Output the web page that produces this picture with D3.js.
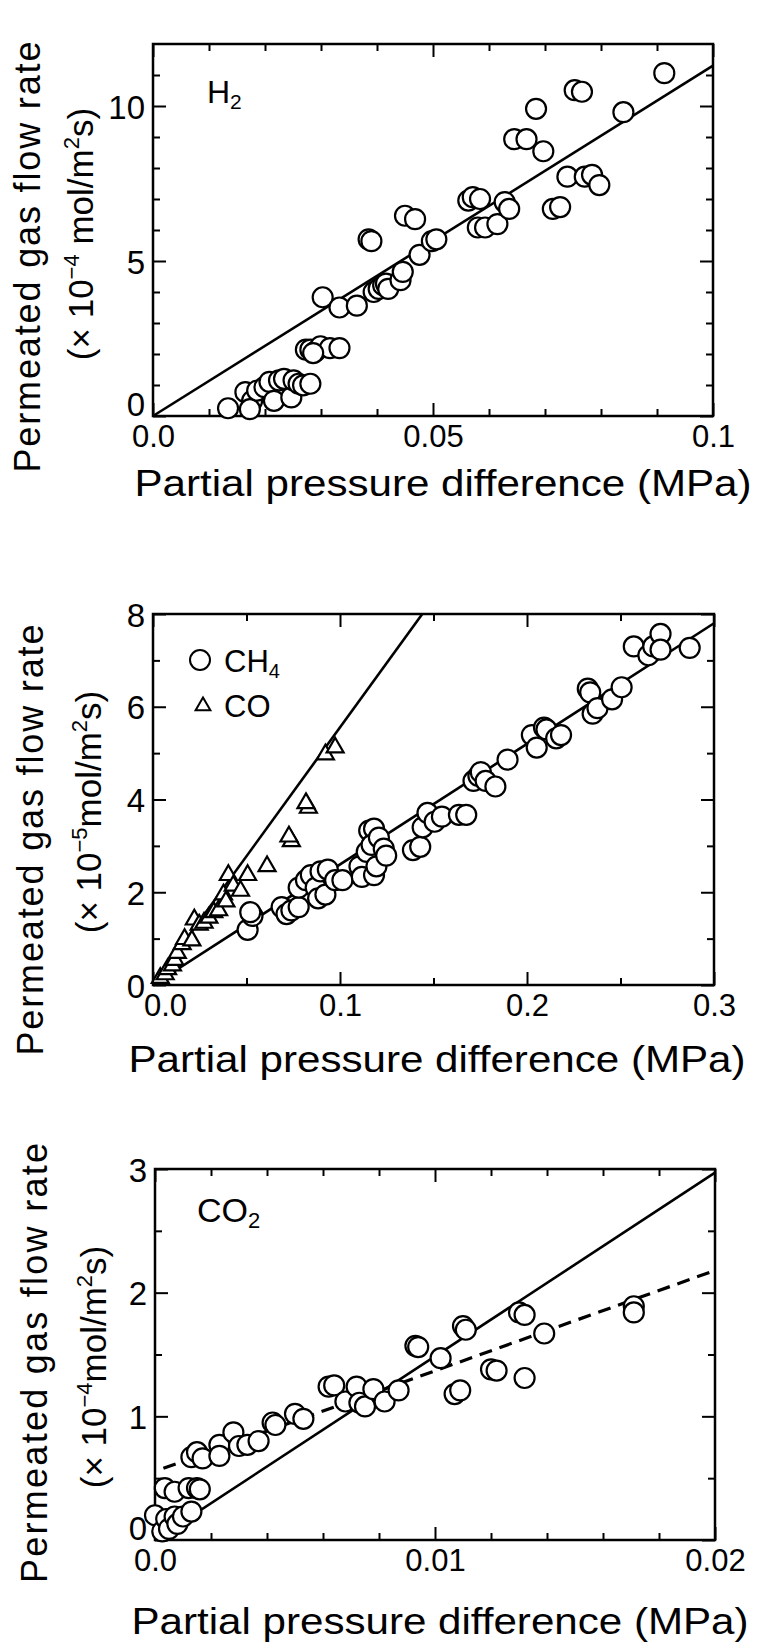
<!DOCTYPE html>
<html>
<head>
<meta charset="utf-8">
<script src="https://cdn.jsdelivr.net/npm/d3@7"></script>
<style>
  html, body { margin: 0; padding: 0; background: #fff; }
  svg { display: block; font-family: "Liberation Sans", Arial, Helvetica, sans-serif; }
</style>
</head>
<body>
<svg id="chart" width="760" height="1643"></svg>
<script>
// ---------------- DATA ----------------
// Panel 1: H2
const h2X = [0.0134,0.0165,0.0177,0.0173,0.0186,0.0199,0.0208,0.0216,0.0225,0.0234,0.0247,0.0251,0.026,0.0268,0.0281,0.0273,0.0281,0.029,0.0299,0.0316,0.0333,0.0286,0.0303,0.0333,0.0364,0.0385,0.039,0.0394,0.0403,0.0411,0.0416,0.042,0.0442,0.0446,0.045,0.0468,0.0476,0.0498,0.0506,0.0563,0.0571,0.0584,0.058,0.0593,0.0615,0.0628,0.0636,0.0645,0.0667,0.0684,0.0697,0.0714,0.0727,0.074,0.0753,0.0766,0.0771,0.0784,0.0797,0.084,0.0913];
const h2Y = [0.25,0.77,0.49,0.22,0.82,0.93,1.1,0.49,1.15,1.2,0.6,1.15,1.04,0.99,1.04,2.14,2.14,2.08,2.25,2.19,2.19,2.03,3.83,3.5,3.56,5.7,5.64,4.0,4.1,4.22,4.27,4.1,4.38,4.65,6.46,6.35,5.2,5.64,5.7,6.95,7.06,7.0,6.08,6.08,6.19,6.9,6.68,8.93,8.93,9.91,8.54,6.68,6.74,7.72,10.51,10.46,7.72,7.78,7.45,9.8,11.06];
const h2FitX = [0, 0.1];
const h2FitY = [0, 11.3];
const h2XTicks = [0, 0.05, 0.1];
const h2XTickLabels = ["0.0", "0.05", "0.1"];
const h2XMinor = [0.01,0.02,0.03,0.04,0.06,0.07,0.08,0.09];
const h2YTicks = [0, 5, 10];
const h2YTickLabels = ["0", "5", "10"];
const h2YMinor = [1,2,3,4,6,7,8,9,11];

// Panel 2: CH4 and CO
const ch4X = [0.0506,0.0532,0.052,0.0688,0.0714,0.074,0.0779,0.0779,0.0818,0.0844,0.087,0.0883,0.0896,0.0922,0.0935,0.0974,0.1013,0.1104,0.1117,0.1143,0.1156,0.1182,0.1169,0.1182,0.1195,0.1208,0.1234,0.1247,0.139,0.1429,0.1442,0.1468,0.1506,0.1545,0.1636,0.1675,0.1714,0.174,0.1753,0.1779,0.1831,0.1896,0.2026,0.2052,0.2091,0.2104,0.2156,0.2182,0.2325,0.2338,0.2351,0.2377,0.2455,0.2506,0.2571,0.2649,0.2675,0.2714,0.2714,0.287];
const ch4Y = [1.19,1.49,1.57,1.68,1.53,1.61,1.68,2.1,2.26,2.37,2.1,1.87,2.45,1.95,2.49,2.26,2.26,2.56,2.33,2.87,3.33,3.37,3.02,2.37,2.56,3.18,2.94,2.79,2.91,2.98,3.4,3.71,3.52,3.63,3.67,3.67,4.4,4.51,4.59,4.4,4.28,4.86,5.39,5.12,5.55,5.51,5.32,5.39,6.39,6.31,5.85,5.97,6.16,6.42,7.3,7.11,7.3,7.57,7.23,7.27];
const coX = [0.0039,0.0065,0.0078,0.0104,0.0117,0.013,0.0156,0.0169,0.0208,0.0221,0.0247,0.0273,0.0299,0.0325,0.0351,0.0377,0.039,0.0403,0.0429,0.0468,0.0506,0.061,0.074,0.0727,0.0831,0.0818,0.0922,0.0974];
const coY = [0.15,0.23,0.34,0.42,0.54,0.69,0.88,0.99,0.96,1.41,1.3,1.34,1.45,1.57,1.61,1.95,1.8,2.37,2.14,2.03,2.37,2.56,3.1,3.2,3.82,3.92,4.97,5.12];
const ch4FitX = [0, 0.3];
const ch4FitY = [0, 7.8];
const coFitX = [0, 0.144];
const coFitY = [0, 8];
const p2XTicks = [0, 0.1, 0.2, 0.3];
const p2XTickLabels = ["0.0", "0.1", "0.2", "0.3"];
const p2XMinor = [0.05, 0.15, 0.25];
const p2YTicks = [0, 2, 4, 6, 8];
const p2YTickLabels = ["0", "2", "4", "6", "8"];
const p2YMinor = [1, 3, 5, 7];
const p2Legend = ["CH4", "CO"];

// Panel 3: CO2
const co2X = [0.0,0.00026,0.00035,0.0004,0.0005,0.0007,0.0007,0.0008,0.001,0.0013,0.0012,0.0015,0.0016,0.0013,0.0015,0.0017,0.0023,0.0023,0.0028,0.003,0.0033,0.0037,0.0042,0.0043,0.005,0.0053,0.0062,0.0064,0.0068,0.0072,0.0073,0.0075,0.0078,0.0082,0.0087,0.0093,0.0094,0.0102,0.0107,0.0109,0.011,0.0111,0.012,0.0122,0.013,0.0132,0.0132,0.0139,0.0171,0.0171];
const co2Y = [0.2,0.07,0.42,0.17,0.09,0.39,0.19,0.13,0.19,0.23,0.42,0.42,0.41,0.67,0.71,0.66,0.77,0.68,0.87,0.76,0.77,0.8,0.95,0.93,1.02,0.98,1.24,1.25,1.12,1.24,1.11,1.08,1.22,1.12,1.21,1.57,1.56,1.47,1.18,1.21,1.73,1.70,1.38,1.37,1.84,1.82,1.31,1.67,1.89,1.84];
const co2FitX = [0, 0.02];
const co2FitY = [0, 2.97];
const co2DashX = [0.0003, 0.02];
const co2DashY = [0.58, 2.18];
const co2XTicks = [0, 0.01, 0.02];
const co2XTickLabels = ["0.0", "0.01", "0.02"];
const co2XMinor = [0.002,0.004,0.006,0.008,0.012,0.014,0.016,0.018];
const co2YTicks = [0, 1, 2, 3];
const co2YTickLabels = ["0", "1", "2", "3"];
const co2YMinor = [0.5, 1.5, 2.5];

const xTitle = "Partial pressure difference (MPa)";
const yTitle1 = "Permeated gas flow rate";

// ---------------- DRAWING ----------------
const svg = d3.select("#chart");
svg.append("rect").attr("width", 760).attr("height", 1643).attr("fill", "#fff");

function zip(xs, ys) { return xs.map((x, i) => ({x, y: ys[i]})); }

function drawPanel(cfg) {
  const {left, top, width, height} = cfg.box;
  const x = d3.scaleLinear().domain(cfg.xDomain).range([0, width]);
  const y = d3.scaleLinear().domain(cfg.yDomain).range([height, 0]);
  const g = svg.append("g").attr("transform", `translate(${left},${top})`);

  const MAJ = 13, MIN = 7;
  const styleAxis = (sel, fs) => {
    sel.select(".domain").remove();
    sel.selectAll(".tick line").attr("stroke", "#000").attr("stroke-width", 2);
    sel.selectAll(".tick text").attr("fill", "#000").attr("font-size", fs || 31)
       .attr("font-family", "'Liberation Sans', Arial, sans-serif");
  };

  // bottom axis with labels
  const bx = g.append("g").attr("transform", `translate(0,${height})`)
    .call(d3.axisBottom(x).tickValues(cfg.xTicks).tickFormat((d, i) => cfg.xTickLabels[i])
      .tickSizeInner(-MAJ).tickSizeOuter(0).tickPadding(9)).call(s => styleAxis(s, 31));
  bx.selectAll(".tick text").filter((d, i) => i === 0).attr("dx", cfg.zeroXdx || 0);
  g.append("g").attr("transform", `translate(0,${height})`)
    .call(d3.axisBottom(x).tickValues(cfg.xMinor).tickFormat("").tickSizeInner(-MIN).tickSizeOuter(0)).call(styleAxis);
  // top axis ticks
  g.append("g").call(d3.axisTop(x).tickValues(cfg.xTicks).tickFormat("").tickSizeInner(-MAJ).tickSizeOuter(0)).call(styleAxis);
  g.append("g").call(d3.axisTop(x).tickValues(cfg.xMinor).tickFormat("").tickSizeInner(-MIN).tickSizeOuter(0)).call(styleAxis);
  // left axis with labels
  const ly = g.append("g")
    .call(d3.axisLeft(y).tickValues(cfg.yTicks).tickFormat((d, i) => cfg.yTickLabels[i])
      .tickSizeInner(-MAJ).tickSizeOuter(0).tickPadding(8)).call(s => styleAxis(s, 33));
  ly.selectAll(".tick text").attr("dy", (d, i) => i === 0 ? (12 + (cfg.zeroYdy || 0)) + "px" : "12px");
  g.append("g").call(d3.axisLeft(y).tickValues(cfg.yMinor).tickFormat("").tickSizeInner(-MIN).tickSizeOuter(0)).call(styleAxis);
  // right axis ticks
  g.append("g").attr("transform", `translate(${width},0)`)
    .call(d3.axisRight(y).tickValues(cfg.yTicks).tickFormat("").tickSizeInner(-MAJ).tickSizeOuter(0)).call(styleAxis);
  g.append("g").attr("transform", `translate(${width},0)`)
    .call(d3.axisRight(y).tickValues(cfg.yMinor).tickFormat("").tickSizeInner(-MIN).tickSizeOuter(0)).call(styleAxis);

  // frame
  g.append("rect").attr("width", width).attr("height", height)
    .attr("fill", "none").attr("stroke", "#000").attr("stroke-width", 2.5);

  const line = d3.line().x(d => x(d.x)).y(d => y(d.y));
  cfg.lines.forEach(L => {
    g.append("path").datum(zip(L.xs, L.ys)).attr("d", line)
      .attr("fill", "none").attr("stroke", "#000").attr("stroke-width", L.dash ? 3.2 : 2.6)
      .attr("stroke-dasharray", L.dash || null);
  });

  cfg.series.forEach(S => {
    const pts = zip(S.xs, S.ys);
    if (S.shape === "circle") {
      g.append("g").selectAll("circle").data(pts).join("circle")
        .attr("cx", d => x(d.x)).attr("cy", d => y(d.y)).attr("r", 10)
        .attr("fill", "#fff").attr("stroke", "#000").attr("stroke-width", 2.2);
    } else {
      const tri = d3.symbol().type(d3.symbolTriangle).size(125);
      g.append("g").selectAll("path").data(pts).join("path")
        .attr("transform", d => `translate(${x(d.x)},${y(d.y)})`).attr("d", tri)
        .attr("fill", "#fff").attr("stroke", "#000").attr("stroke-width", 2.2);
    }
  });

  // x title
  svg.append("text").attr("x", cfg.xTitlePos[0]).attr("y", cfg.xTitlePos[1])
    .attr("text-anchor", "middle").attr("font-size", 36)
    .attr("textLength", 617).attr("lengthAdjust", "spacingAndGlyphs").text(xTitle);

  // y title line 1
  svg.append("text").attr("transform", `translate(${cfg.yT1[0]},${cfg.yT1[1]}) rotate(-90)`)
    .attr("text-anchor", "middle").attr("font-size", 36)
    .attr("textLength", cfg.yT1[2]).attr("lengthAdjust", "spacing").text(yTitle1);

  // y title line 2
  const t2 = svg.append("text").attr("transform", `translate(${cfg.yT2[0]},${cfg.yT2[1]}) rotate(-90)`)
    .attr("text-anchor", "middle").attr("font-size", 35);
  t2.append("tspan").text("(× 10");
  t2.append("tspan").attr("font-size", 22).attr("dy", -14).text("−" + cfg.exp);
  t2.append("tspan").attr("dy", 14).text(cfg.expGap + "mol/m");
  t2.append("tspan").attr("font-size", 22).attr("dy", -14).text("2");
  t2.append("tspan").attr("dy", 14).text("s)");

  return {g, x, y};
}

// Panel 1
drawPanel({
  box: {left: 153, top: 44, width: 560, height: 372},
  xDomain: [0, 0.1], yDomain: [0, 12],
  xTicks: h2XTicks, xTickLabels: h2XTickLabels, xMinor: h2XMinor,
  yTicks: h2YTicks, yTickLabels: h2YTickLabels, yMinor: h2YMinor,
  zeroYdy: -13,
  lines: [{xs: h2FitX, ys: h2FitY}],
  series: [{xs: h2X, ys: h2Y, shape: "circle"}],
  xTitlePos: [443, 496],
  yT1: [40, 257, 431], yT2: [93, 234], exp: "4", expGap: " "
});
{
  const t = svg.append("text").attr("x", 207).attr("y", 103).attr("font-size", 32);
  t.append("tspan").text("H");
  t.append("tspan").attr("font-size", 21).attr("dy", 6).text("2");
}

// Panel 2
drawPanel({
  box: {left: 153, top: 614, width: 561, height: 371},
  xDomain: [0, 0.3], yDomain: [0, 8],
  xTicks: p2XTicks, xTickLabels: p2XTickLabels, xMinor: p2XMinor,
  yTicks: p2YTicks, yTickLabels: p2YTickLabels, yMinor: p2YMinor,
  zeroYdy: 0, zeroXdx: 12,
  lines: [{xs: coFitX, ys: coFitY}, {xs: ch4FitX, ys: ch4FitY}],
  series: [{xs: ch4X, ys: ch4Y, shape: "circle"}, {xs: coX, ys: coY, shape: "triangle"}],
  xTitlePos: [437, 1072],
  yT1: [43, 840, 431], yT2: [101, 812], exp: "5", expGap: ""
});
{
  const lg = svg.append("g");
  lg.append("circle").attr("cx", 200).attr("cy", 660).attr("r", 10)
    .attr("fill", "#fff").attr("stroke", "#000").attr("stroke-width", 2);
  const t1 = lg.append("text").attr("x", 224).attr("y", 672).attr("font-size", 31);
  t1.append("tspan").text(p2Legend[0].slice(0, 2));
  t1.append("tspan").attr("font-size", 20).attr("dy", 6).text(p2Legend[0].slice(2));
  lg.append("path").attr("transform", "translate(203,706)")
    .attr("d", d3.symbol().type(d3.symbolTriangle).size(95))
    .attr("fill", "#fff").attr("stroke", "#000").attr("stroke-width", 2);
  lg.append("text").attr("x", 224).attr("y", 717).attr("font-size", 31).text(p2Legend[1]);
}

// Panel 3
drawPanel({
  box: {left: 155, top: 1169, width: 560, height: 371},
  xDomain: [0, 0.02], yDomain: [0, 3],
  xTicks: co2XTicks, xTickLabels: co2XTickLabels, xMinor: co2XMinor,
  yTicks: co2YTicks, yTickLabels: co2YTickLabels, yMinor: co2YMinor,
  zeroYdy: -13,
  lines: [{xs: co2FitX, ys: co2FitY}, {xs: co2DashX, ys: co2DashY, dash: "13,8"}],
  series: [{xs: co2X, ys: co2Y, shape: "circle"}],
  xTitlePos: [440, 1634],
  yT1: [47, 1363, 440], yT2: [106, 1367], exp: "4", expGap: ""
});
{
  const t = svg.append("text").attr("x", 197).attr("y", 1222).attr("font-size", 34);
  t.append("tspan").text("CO");
  t.append("tspan").attr("font-size", 22).attr("dy", 6).text("2");
}
</script>
</body>
</html>
